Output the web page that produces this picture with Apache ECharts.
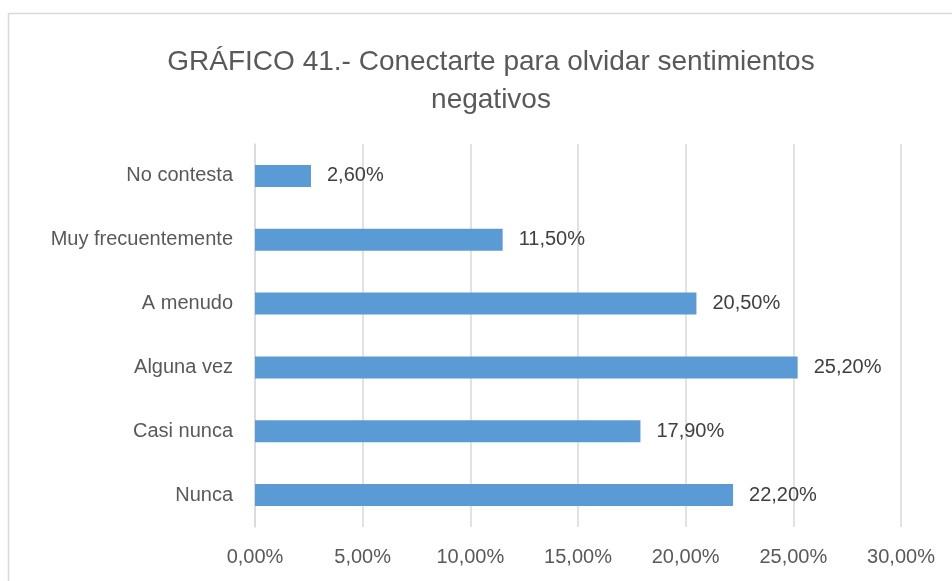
<!DOCTYPE html>
<html>
<head>
<meta charset="utf-8">
<script src="https://cdn.jsdelivr.net/npm/echarts@6/dist/echarts.min.js"></script>
<style>
  html, body { margin: 0; padding: 0; background: #fff; }
  #main { width: 952px; height: 581px; }
</style>
</head>
<body>
<div id="main"></div>
<script>
// categories from bottom to top (category axis starts at the bottom)
var categories = ['Nunca', 'Casi nunca', 'Alguna vez', 'A menudo', 'Muy frecuentemente', 'No contesta'];
var values = [22.2, 17.9, 25.2, 20.5, 11.5, 2.6];
var titleText = 'GRÁFICO 41.- Conectarte para olvidar sentimientos\nnegativos';

function pct(v) {
  return v.toFixed(2).replace('.', ',') + '%';
}

var chart = echarts.init(document.getElementById('main'));
var font = 'Liberation Sans';

var option = {
  animation: false,
  textStyle: { fontFamily: font },
  title: {
    text: titleText,
    left: 486,
    textAlign: 'center',
    top: 38,
    textStyle: {
      fontFamily: font,
      fontSize: 28,
      fontWeight: 'normal',
      color: '#595959',
      lineHeight: 38
    }
  },
  graphic: [{
    type: 'rect',
    shape: { x: 8.5, y: 13.5, width: 1000, height: 700 },
    style: { fill: 'none', stroke: '#d9d9d9', lineWidth: 1.5 },
    silent: true
  }],
  grid: { left: 255, right: 51, top: 144, bottom: 54 },
  xAxis: {
    type: 'value',
    min: 0,
    max: 30,
    interval: 5,
    axisLine: { show: false },
    axisTick: { show: false },
    splitLine: { lineStyle: { color: '#d9d9d9', width: 1.5 } },
    axisLabel: {
      color: '#595959',
      fontSize: 20,
      margin: 20,
      formatter: function (v) { return pct(v); }
    }
  },
  yAxis: {
    type: 'category',
    data: categories,
    axisLine: { show: true, lineStyle: { color: '#d9d9d9', width: 1.5 } },
    axisTick: { show: false },
    axisLabel: { color: '#595959', fontSize: 20, margin: 22, padding: [4, 0, 0, 0] }
  },
  series: [{
    type: 'bar',
    data: values,
    barWidth: 22,
    itemStyle: { color: '#5b9bd5' },
    label: {
      show: true,
      position: 'right',
      distance: 16,
      color: '#404040',
      fontSize: 20,
      padding: [4, 0, 0, 0],
      formatter: function (p) { return pct(p.value); }
    }
  }]
};

chart.setOption(option);
</script>
</body>
</html>
